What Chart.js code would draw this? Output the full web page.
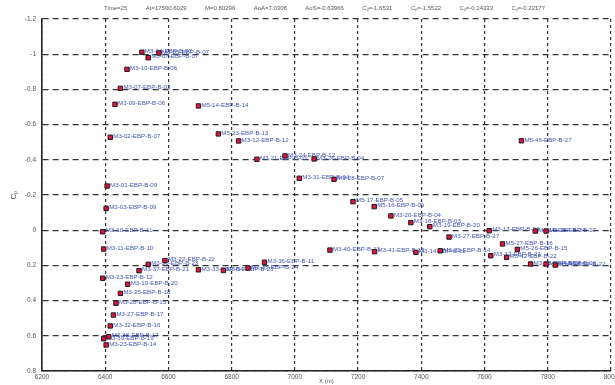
<!DOCTYPE html>
<html lang="en">
<head>
<meta charset="UTF-8">
<title>Pressure taps - Cp vs X</title>
<script src="https://cdn.jsdelivr.net/npm/chart.js"></script>
<style>
  html, body { margin: 0; padding: 0; background: #ffffff; }
</style>
</head>
<body>
<canvas id="cpChart" width="615" height="385"></canvas>
<script>
// tap positions along the body (m)
const tapX = [
  6516, 6570, 6536, 6469, 6448, 6431, 6695, 6758, 6416, 6822,
  6880, 6969, 7061, 7014, 7124, 6406, 6403, 7184, 7251, 7304,
  7367, 7427, 6392, 7615, 7761, 7795, 7488, 7657, 6395, 7111,
  7252, 7383, 7460, 7704, 7620, 7670, 6589, 6536, 7746, 7795,
  7824, 6507, 6695, 6774, 6852, 6904, 6392, 6471, 6448, 6434,
  6426, 6416, 6411, 6395, 6403, 7717
];

// pressure coefficient at each tap
const tapCp = [
  -1.011, -1.007, -0.980, -0.914, -0.806, -0.715, -0.706, -0.547, -0.528, -0.507,
  -0.403, -0.422, -0.405, -0.295, -0.289, -0.251, -0.124, -0.162, -0.134, -0.081,
  -0.043, -0.020,  0.009,  0.003,  0.005,  0.005,  0.039,  0.078,  0.107,  0.113,
   0.122,  0.126,  0.117,  0.109,  0.145,  0.154,  0.173,  0.194,  0.192,  0.192,
   0.198,  0.230,  0.225,  0.229,  0.215,  0.182,  0.273,  0.307,  0.359,  0.415,
   0.482,  0.544,  0.605,  0.617,  0.652, -0.508
];

const tapNames = [
  'M3-04-EBP-B-07', 'M3-05-EBP-B-07', 'M3-07-EBP-B-07', 'M3-10-EBP-B-06', 'M3-07-EBP-B-03',
  'M3-09-EBP-B-06', 'M5-14-EBP-B-14', 'M5-23-EBP-B-13', 'M3-02-EBP-B-07', 'M3-12-EBP-B-12',
  'M3-21-EBP-B-03', 'M3-24-EBP-B-12', 'M3-26-EBP-B-04', 'M3-31-EBP-B-04', 'M3-28-EBP-B-07',
  'M3-01-EBP-B-09', 'M3-03-EBP-B-09', 'M5-17-EBP-B-05', 'M5-16-EBP-B-09', 'M3-20-EBP-B-04',
  'M3-18-EBP-B-03', 'M3-19-EBP-B-20', 'M3-10-EBP-B-11', 'M3-13-EBP-B-04', 'M3-15-EBP-B-24',
  'M3-16-EBP-B-27', 'M3-27-EBP-B-27', 'M5-27-EBP-B-16', 'M3-11-EBP-B-10', 'M3-40-EBP-B-13',
  'M3-41-EBP-B-12', 'M3-14-EBP-B-11', 'M3-29-EBP-B-14', 'M5-26-EBP-B-15', 'M3-17-EBP-B-21',
  'M3-42-EBP-B-22', 'M3-22-EBP-B-22', 'M3-30-EBP-B-23', 'M3-43-EBP-B-24', 'M3-44-EBP-B-26',
  'M3-45-EBP-B-22', 'M3-37-EBP-B-21', 'M3-33-EBP-B-22', 'M3-34-EBP-B-23', 'M3-35-EBP-B-24',
  'M3-36-EBP-B-11', 'M3-23-EBP-B-12', 'M3-10-EBP-B-20', 'M3-25-EBP-B-18', 'M3-28-EBP-B-15',
  'M3-27-EBP-B-17', 'M3-32-EBP-B-16', 'M3-38-EBP-B-17', 'M3-39-EBP-B-19', 'M3-23-EBP-B-14',
  'M5-46-EBP-B-27'
];

// run conditions shown above the plot
const runInfo = [
  'Time=25', 'At=17500.6029', 'M=0.80296', 'AoA=7.0308', 'AoS=-0.63966',
  'Cₚ=-1.6531', 'Cₚ=-1.5522', 'Cₚ=-0.14333', 'Cₚ=-0.22177'
];

const FONT = "'Liberation Sans', Arial, sans-serif";

// small blue tag next to every tap marker
const tapLabels = {
  id: 'tapLabels',
  beforeDatasetsDraw(chart) {
    const ctx = chart.ctx;
    const meta = chart.getDatasetMeta(0);
    ctx.save();
    ctx.font = '6.2px ' + FONT;
    ctx.fillStyle = '#4456b8';
    ctx.textBaseline = 'middle';
    meta.data.forEach((pt, i) => {
      ctx.fillText(tapNames[i], pt.x + 3, pt.y - 1);
    });
    ctx.restore();
  }
};

// header line with the run conditions
const runHeader = {
  id: 'runHeader',
  afterDraw(chart) {
    const ctx = chart.ctx;
    ctx.save();
    ctx.font = '6px ' + FONT;
    ctx.fillStyle = '#555';
    ctx.textBaseline = 'middle';
    const widths = runInfo.map(s => ctx.measureText(s).width);
    const total = widths.reduce((a, b) => a + b, 0);
    const start = 104, end = 545;
    const gap = (end - start - total) / (runInfo.length - 1);
    let x = start;
    runInfo.forEach((s, i) => {
      ctx.fillText(s, x, 8);
      x += widths[i] + gap;
    });
    ctx.restore();
  }
};

new Chart(document.getElementById('cpChart'), {
  type: 'scatter',
  data: {
    datasets: [{
      data: tapX.map((x, i) => ({ x: x, y: tapCp[i] })),
      pointStyle: 'rect',
      pointRadius: 3.1,
      pointHoverRadius: 3.1,
      backgroundColor: '#e3123d',
      borderColor: '#1a1a1a',
      borderWidth: 1
    }]
  },
  options: {
    responsive: false,
    animation: false,
    layout: { padding: { top: 19, left: 0, right: 0, bottom: 0 } },
    plugins: {
      legend: { display: false },
      tooltip: { enabled: false }
    },
    scales: {
      x: {
        type: 'linear',
        min: 6200,
        max: 8000,
        afterFit: (scale) => {
          scale.paddingLeft = 0;
          scale.paddingRight = 0;
          scale.height = 14;
        },
        ticks: {
          stepSize: 200,
          padding: 2,
          color: '#555',
          font: { family: FONT, size: 6.5 },
          callback: (v) => String(v)
        },
        grid: { color: '#333', lineWidth: 1.2, drawTicks: false },
        border: { color: '#222', width: 1.6, dash: [3, 3] },
        title: {
          display: true,
          text: 'X (m)',
          color: '#555',
          font: { family: FONT, size: 6 },
          padding: { top: 0, bottom: 0 }
        }
      },
      y: {
        type: 'linear',
        reverse: true,
        min: -1.2,
        max: 0.8,
        afterFit: (scale) => { scale.width = 42; },
        ticks: {
          stepSize: 0.2,
          padding: 6,
          color: '#555',
          font: { family: FONT, size: 6.5 },
          callback: (v) => String(Number(v.toFixed(1)))
        },
        grid: { color: '#333', lineWidth: 1.2, drawTicks: false },
        border: { color: '#222', width: 1.6, dash: [6, 4] },
        title: {
          display: true,
          text: 'Cₚ',
          color: '#444',
          font: { family: FONT, size: 8 },
          padding: { top: 9, bottom: 0 }
        }
      }
    }
  },
  plugins: [tapLabels, runHeader]
});
</script>
</body>
</html>
